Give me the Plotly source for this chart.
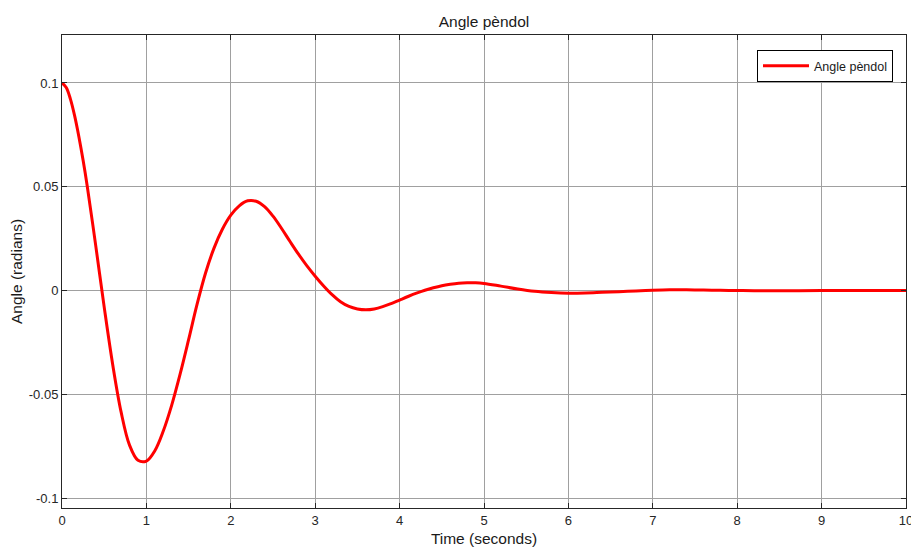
import plotly.graph_objects as go

time_s = [0.0, 0.05, 0.1, 0.15, 0.2, 0.25, 0.3, 0.4, 0.5, 0.6, 0.7, 0.8, 0.9, 1.0, 1.1,
          1.2, 1.3, 1.4, 1.5, 1.6, 1.7, 1.8, 1.9, 2.0, 2.1, 2.2, 2.3, 2.4, 2.5, 2.6,
          2.7, 2.8, 2.9, 3.0, 3.1, 3.2, 3.3, 3.4, 3.5, 3.6, 3.7, 3.8, 3.9, 4.0, 4.1,
          4.2, 4.3, 4.4, 4.5, 4.6, 4.7, 4.8, 4.9, 5.0, 5.2, 5.4, 5.6, 5.8, 6.0, 6.2,
          6.4, 6.6, 6.8, 7.0, 7.2, 7.4, 7.6, 7.8, 8.0, 8.2, 8.6, 9.0, 9.5, 10.0]
angle_rad = [0.1, 0.0978, 0.0922, 0.0841, 0.0741, 0.0627, 0.0500, 0.0215, -0.0080,
             -0.0355, -0.0585, -0.0745, -0.0818, -0.0822, -0.0772, -0.0677, -0.0552,
             -0.0402, -0.0237, -0.0067, 0.0083, 0.0203, 0.0295, 0.0363, 0.0408, 0.0432,
             0.0430, 0.0404, 0.0358, 0.0300, 0.0237, 0.0176, 0.0120, 0.0069, 0.0022,
             -0.0020, -0.0054, -0.0077, -0.0089, -0.0093, -0.0089, -0.0078, -0.0063,
             -0.0046, -0.0029, -0.0013, 0.0001, 0.0013, 0.0023, 0.0030, 0.0035, 0.0037,
             0.0037, 0.0034, 0.0021, 0.0007, -0.0004, -0.0010, -0.0013, -0.0012, -0.0009,
             -0.0006, -0.0002, 0.0001, 0.0003, 0.0003, 0.0002, 0.0001, 0.0, -0.0001,
             -0.0001, 0.0, 0.0, 0.0]

x_ticks = list(range(0, 11))
y_ticks = [-0.1, -0.05, 0, 0.05, 0.1]
y_tick_labels = ["-0.1", "-0.05", "0", "0.05", "0.1"]

fig = go.Figure()
fig.add_trace(go.Scatter(x=time_s, y=angle_rad, mode="lines", name="Angle pèndol",
                         line=dict(color="#ff0000", width=3, shape="spline", smoothing=1.0)))

fig.update_layout(
    width=911, height=549,
    margin=dict(l=62, r=5, t=35, b=41, autoexpand=False),
    paper_bgcolor="white", plot_bgcolor="white",
    font=dict(family="Liberation Sans, Arial, sans-serif", size=13, color="#262626"),
    title=dict(text="Angle pèndol", x=0.5, xref="paper", xanchor="center",
               y=0.961, yanchor="middle",
               font=dict(size=15.5, color="#1a1a1a")),
    showlegend=True,
    legend=dict(x=0.9846, y=0.968, xanchor="right", yanchor="top",
                bgcolor="white", bordercolor="black", borderwidth=1, itemwidth=46,
                font=dict(size=12.5, color="#1a1a1a")),
)
fig.update_xaxes(range=[0, 10], tickvals=x_ticks, showgrid=True, gridcolor="#a0a0a0",
                 gridwidth=1, showline=True, linecolor="#262626", linewidth=1, mirror="ticks",
                 ticks="inside", ticklen=5, tickcolor="#262626", zeroline=False,
                 ticklabeloverflow="allow", automargin=False,
                 title=dict(text="Time (seconds)", standoff=6, font=dict(size=15.5, color="#1a1a1a")))
fig.update_yaxes(range=[-0.1048, 0.1231], tickvals=y_ticks, ticktext=y_tick_labels,
                 showgrid=True, gridcolor="#a0a0a0", gridwidth=1, showline=True,
                 linecolor="#262626", linewidth=1, mirror="ticks", ticks="inside", ticklen=5,
                 tickcolor="#262626", zeroline=False, automargin=False,
                 title=dict(text="Angle (radians)", standoff=2, font=dict(size=15.5, color="#1a1a1a")))

fig.write_html("out.html")
